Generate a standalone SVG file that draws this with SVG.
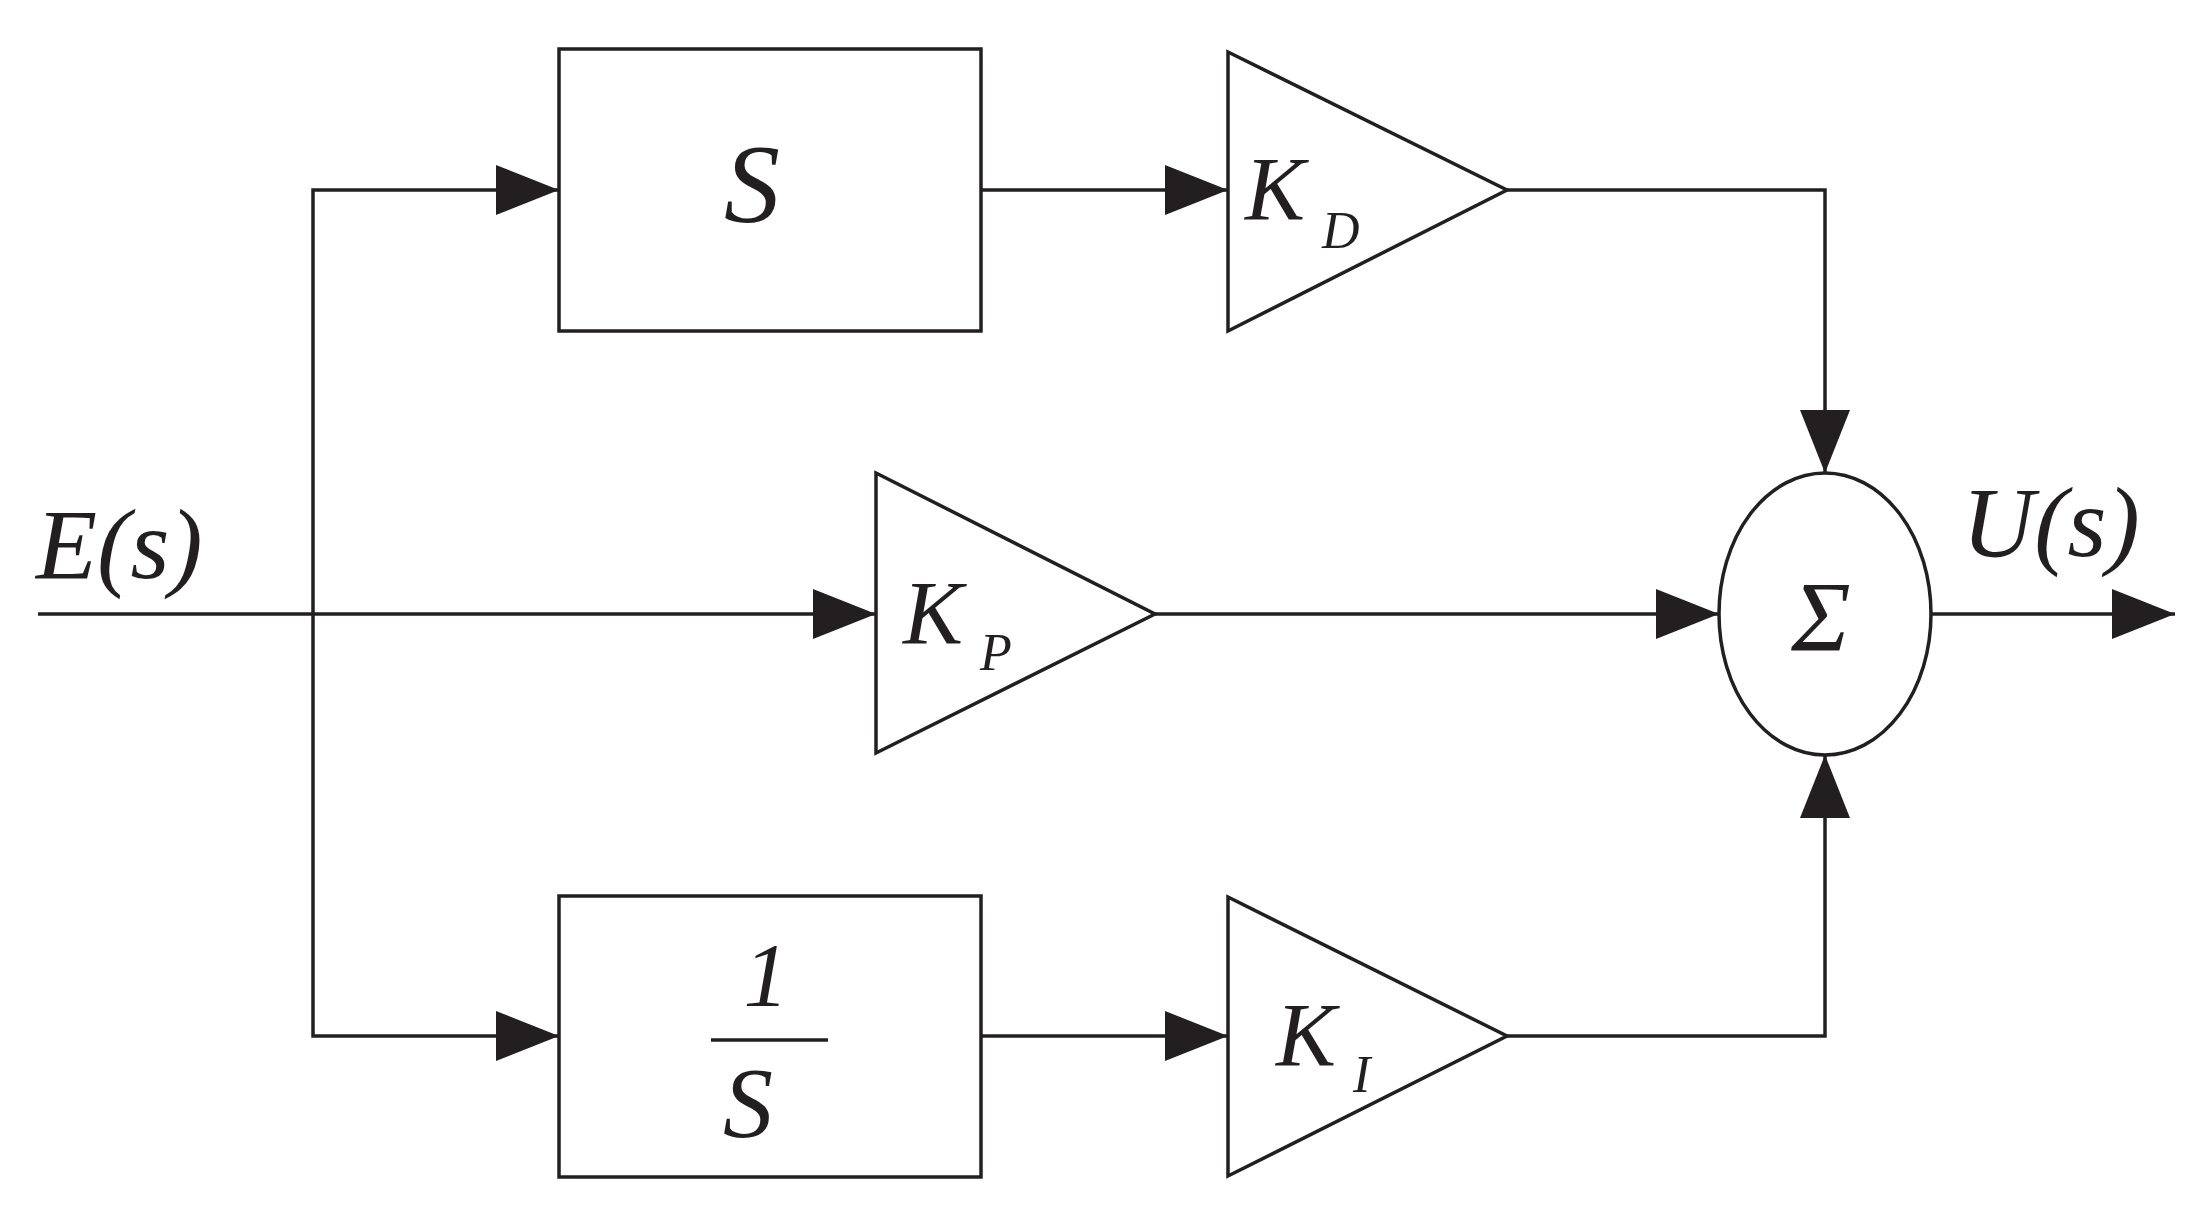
<svg xmlns="http://www.w3.org/2000/svg" width="2201" height="1217" viewBox="0 0 2201 1217">
<style>
.s{fill:none;stroke:#231f20;stroke-width:3.5}
.b{fill:#fff;stroke:#231f20;stroke-width:3.5}
text{font-family:"Liberation Serif",serif;font-style:italic;fill:#231f20}
</style>
<defs>
<marker id="a" markerUnits="userSpaceOnUse" markerWidth="64" markerHeight="50" refX="63" refY="25" orient="auto"><path d="M0,0 L63,25 L0,50 Z" fill="#231f20"/></marker>
</defs>
<rect width="2201" height="1217" fill="#fff"/>
<g id="connectors" class="s">
<path d="M38,614 H876" marker-end="url(#a)"/>
<path d="M313,614 V190 H559" marker-end="url(#a)"/>
<path d="M313,614 V1036 H559" marker-end="url(#a)"/>
<path d="M981,190 H1228" marker-end="url(#a)"/>
<path d="M981,1036 H1228" marker-end="url(#a)"/>
<path d="M1507,190 H1825 V473" marker-end="url(#a)"/>
<path d="M1507,1036 H1825 V755" marker-end="url(#a)"/>
<path d="M1155,614 H1719" marker-end="url(#a)"/>
<path d="M1931,614 H2175" marker-end="url(#a)"/>
</g>
<g id="box-s"><rect class="b" x="559" y="49" width="422" height="282"/><text x="752" y="222" font-size="112" text-anchor="middle">S</text></g>
<g id="kd"><path class="b" d="M1228,52 L1507,190 L1228,331 Z"/><text x="1245" y="220" font-size="90">K</text><text x="1322" y="248" font-size="52">D</text></g>
<g id="kp"><path class="b" d="M876,473 L1155,614 L876,753 Z"/><text x="903" y="644" font-size="90">K</text><text x="980" y="670" font-size="52">P</text></g>
<g id="ki"><path class="b" d="M1228,897 L1507,1036 L1228,1176 Z"/><text x="1276" y="1066" font-size="90">K</text><text x="1353" y="1092" font-size="52">I</text></g>
<g id="box-inv"><rect class="b" x="559" y="896" width="422" height="281"/><text x="766" y="1006" font-size="90" text-anchor="middle" font-style="normal">1</text><path class="s" d="M711,1040 H828"/><text x="748" y="1136" font-size="100" text-anchor="middle">S</text></g>
<g id="sum"><ellipse class="b" cx="1825" cy="614" rx="106" ry="141"/><text x="1821" y="650" font-size="100" text-anchor="middle" font-style="normal">Σ</text></g>
<g id="labels"><text x="36" y="578" font-size="100">E(s)</text><text x="1962" y="556" font-size="100">U(s)</text></g>
</svg>
